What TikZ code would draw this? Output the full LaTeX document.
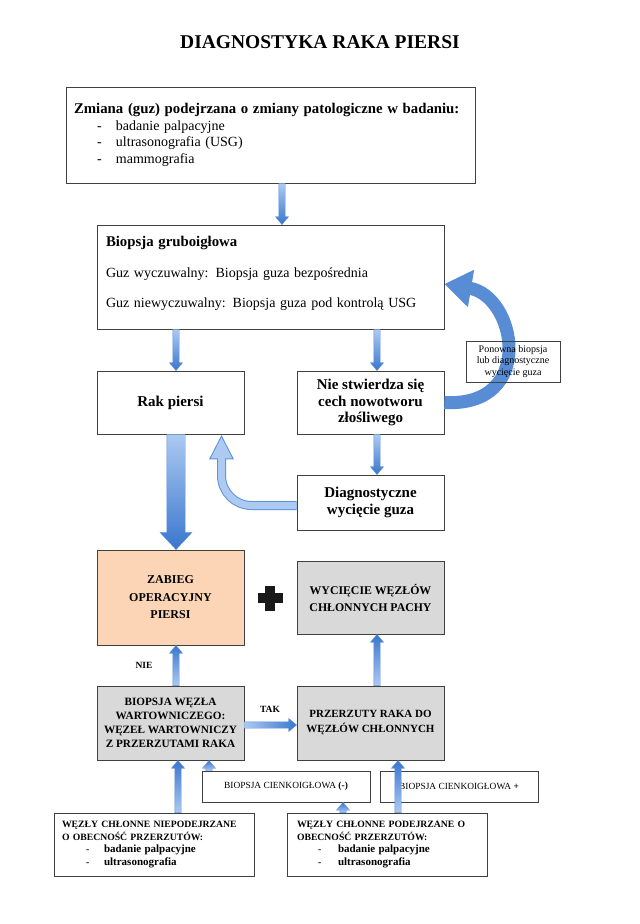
\documentclass[tikz,border=0pt]{standalone}
\usepackage{fontspec}
\setmainfont{Liberation Serif}
\usetikzlibrary{shapes.arrows,arrows.meta,calc}

\definecolor{boxline}{RGB}{64,64,64}
\definecolor{peach}{RGB}{251,213,181}
\definecolor{boxgray}{RGB}{217,217,217}
\definecolor{arrowlight}{RGB}{172,202,242}
\definecolor{arrowdark}{RGB}{58,118,205}
\definecolor{arrowline}{RGB}{95,145,215}
\definecolor{arrowmid}{RGB}{88,140,212}

\tikzset{
  box/.style={draw=boxline, line width=0.8pt, inner sep=0pt, align=center},
  flow/.style={single arrow, draw=arrowline, line width=0.3pt,
    top color=arrowdark, bottom color=arrowlight,
    inner xsep=0pt, inner ysep=3pt, outer sep=0pt,
    single arrow head extend=3.5pt, single arrow tip angle=80},
  bigflow/.style={flow, inner ysep=9pt, single arrow head extend=7pt,
    single arrow tip angle=86},
}

% block arrow from one point to another
\newcommand\flowto[3][flow]{%
  \path let \p1=#2, \p2=#3,
    \n1={veclen(\x2-\x1,\y2-\y1)}, \n2={atan2(\y2-\y1,\x2-\x1)} in
    node[#1, anchor=tail, minimum height=\n1, rotate=\n2,
      shading angle={\n2-90}] at (\p1) {};}

\begin{document}
\begin{tikzpicture}[x=1pt,y=1pt]
\def\xleft{170.5};
\def\xright{370.5};
\def\colw{147pt};

\useasboundingbox (0,0) rectangle (640,-924);

\node[font=\fontsize{19.5}{24}\selectfont\bfseries] (title) at (320,-42) {DIAGNOSTYKA RAKA PIERSI};

\node[box, minimum width=409pt, minimum height=96pt, text width=393pt, align=left,
  font=\fontsize{14}{16.5}\selectfont] (zmiana) at (270.5,-135)
  {{\fontsize{14.8}{16.5}\selectfont\bfseries Zmiana (guz) podejrzana o zmiany patologiczne w badaniu:}\\
   \hspace*{23pt}\makebox[19pt][l]{-}badanie palpacyjne\\
   \hspace*{23pt}\makebox[19pt][l]{-}ultrasonografia (USG)\\
   \hspace*{23pt}\makebox[19pt][l]{-}mammografia};

\node[box, minimum width=347pt, minimum height=104pt, text width=329pt, align=left,
  font=\fontsize{14}{16.5}\selectfont] (biop) at (270.5,-277)
  {{\fontsize{14.8}{16.5}\selectfont\bfseries Biopsja gruboigłowa}\\[14pt]
   Guz wyczuwalny: Biopsja guza bezpośrednia\\[14pt]
   Guz niewyczuwalny: Biopsja guza pod kontrolą USG\\[-7pt]\mbox{}};

\node[box, minimum width=\colw, minimum height=63pt, font=\fontsize{15}{16.5}\selectfont\bfseries]
  (rak) at (\xleft,-402.5) {Rak piersi};
\node[box, minimum width=\colw, minimum height=63pt, font=\fontsize{15}{16.5}\selectfont\bfseries]
  (nie) at (\xright,-402.5) {Nie stwierdza się\\cech nowotworu\\złośliwego};
\node[box, minimum width=\colw, minimum height=55pt, font=\fontsize{15}{16.5}\selectfont\bfseries]
  (diag) at (\xright,-502.5) {Diagnostyczne\\wycięcie guza};

\node[box, fill=peach, minimum width=\colw, minimum height=95pt, font=\fontsize{12}{17.5}\selectfont\bfseries]
  (zabieg) at (\xleft,-597.5) {ZABIEG\\OPERACYJNY\\PIERSI};
\node[box, fill=boxgray, minimum width=\colw, minimum height=73pt, font=\fontsize{11.8}{17}\selectfont\bfseries]
  (wyc) at (\xright,-597.5) {WYCIĘCIE WĘZŁÓW\\CHŁONNYCH PACHY};

\node[box, fill=boxgray, minimum width=\colw, minimum height=74pt, font=\fontsize{11.2}{14}\selectfont\bfseries]
  (bwez) at (\xleft,-723) {BIOPSJA WĘZŁA\\WARTOWNICZEGO:\\WĘZEŁ WARTOWNICZY\\Z PRZERZUTAMI RAKA};
\node[box, fill=boxgray, minimum width=\colw, minimum height=74pt, font=\fontsize{11}{15}\selectfont\bfseries]
  (przerz) at (\xright,-723) {PRZERZUTY RAKA DO\\WĘZŁÓW CHŁONNYCH};

\node[box, line width=0.6pt, minimum width=168pt, minimum height=31pt, font=\fontsize{9.4}{12}\selectfont]
  (cienkneg) at (286,-786.5) {BIOPSJA CIENKOIGŁOWA \textbf{(-)}};
\node[box, line width=0.6pt, minimum width=158pt, minimum height=31pt, font=\fontsize{9.4}{12}\selectfont]
  (cienkpos) at (459,-786.5) {BIOPSJA CIENKOIGŁOWA \textbf{+}};

\node[box, minimum width=200pt, minimum height=63pt, text width=184pt, align=left,
  font=\fontsize{9.7}{12.5}\selectfont\bfseries] (wezniep) at (154,-844.5)
  {WĘZŁY CHŁONNE NIEPODEJRZANE\\O OBECNOŚĆ PRZERZUTÓW:\\
   \hspace*{24pt}\makebox[18pt][l]{-}{\fontsize{11}{12}\selectfont badanie palpacyjne}\\
   \hspace*{24pt}\makebox[18pt][l]{-}{\fontsize{11}{12}\selectfont ultrasonografia}};
\node[box, minimum width=200pt, minimum height=63pt, text width=180pt, align=left,
  font=\fontsize{9.7}{12.5}\selectfont\bfseries] (wezpodej) at (387,-844.5)
  {WĘZŁY CHŁONNE PODEJRZANE O\\OBECNOŚĆ PRZERZUTÓW:\\
   \hspace*{21pt}\makebox[20pt][l]{-}{\fontsize{11}{12}\selectfont badanie palpacyjne}\\
   \hspace*{21pt}\makebox[20pt][l]{-}{\fontsize{11}{12}\selectfont ultrasonografia}};

% curved arrows
\draw[arrowmid, line width=13pt, -{Triangle[width=36pt,length=27pt]}]
  (nie.east) .. controls +(92,-5) and +(72,-12) .. ([yshift=-7pt]biop.east);
\node[box, line width=0.5pt, minimum width=94pt, minimum height=41pt,
  font=\fontsize{10}{11.5}\selectfont] (ponowna) at (513,-361.5)
  {Ponowna biopsja\\lub diagnostyczne\\wycięcie guza};

\draw[arrowline, line width=9pt, rounded corners=30pt, -{Triangle[width=23pt,length=25pt]}]
  ([yshift=-3pt]diag.west) -| ([xshift=51pt]rak.south);
\draw[arrowlight, line width=7pt, rounded corners=30pt, shorten >=2.4pt,
  -{Triangle[width=19.9pt,length=21.6pt]}]
  ([yshift=-3pt]diag.west) -| ([xshift=51pt]rak.south);

% straight arrows
\flowto{([xshift=11.5pt]zmiana.south)}{([xshift=11.5pt]biop.north)}
\flowto{($(biop.south -| rak.north)+(5.5,0)$)}{([xshift=5.5pt]rak.north)}
\flowto{($(biop.south -| nie.north)+(6.5,0)$)}{([xshift=6.5pt]nie.north)}
\flowto{([xshift=6.5pt]nie.south)}{([xshift=6.5pt]diag.north)}
\flowto[bigflow]{([xshift=5.5pt]rak.south)}{([xshift=5.5pt]zabieg.north)}
\flowto{([xshift=5.5pt]bwez.north)}{([xshift=5.5pt]zabieg.south)}
\flowto{([xshift=6.5pt]przerz.north)}{([xshift=6.5pt]wyc.south)}
\flowto{([yshift=-2pt]bwez.east)}{([yshift=-2pt]przerz.west)}
\flowto{([xshift=24pt]wezniep.north)}{([xshift=7.5pt]bwez.south)}
\flowto{([xshift=-77pt]cienkneg.north)}{([xshift=38.5pt]bwez.south)}
\flowto{([xshift=-44pt]wezpodej.north)}{([xshift=57pt]cienkneg.south)}
\flowto{([xshift=11pt]wezpodej.north)}{([xshift=27.5pt]przerz.south)}

\node[font=\fontsize{9.5}{12}\selectfont\bfseries] (nie-label) at (144,-665) {NIE};
\node[font=\fontsize{9.5}{12}\selectfont\bfseries] (tak-label) at (270,-709) {TAK};

% plus sign
\coordinate (plus) at (270,-598);
\fill[black!90] (plus) +(-12.5,-5) rectangle +(12.5,5);
\fill[black!90] (plus) +(-5,-12.5) rectangle +(5,12.5);

\end{tikzpicture}
\end{document}
